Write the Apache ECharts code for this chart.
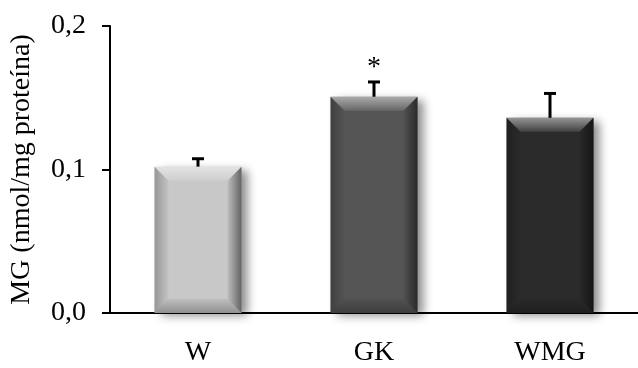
<!DOCTYPE html>
<html>
<head>
<meta charset="utf-8">
<script src="https://cdn.jsdelivr.net/npm/echarts@6/dist/echarts.min.js"></script>
<style>html,body{margin:0;padding:0;background:#fff}#c{width:638px;height:368px}</style>
</head>
<body>
<div id="c"></div>
<script>
const categories = ['W', 'GK', 'WMG'];
const means = [0.102, 0.1507, 0.136];
const errUpper = [0.1075, 0.161, 0.153];
const sigMarks = ['', '*', ''];
const yTicks = [0, 0.1, 0.2];
const barColors = ['#c8c8c8', '#555555', '#2b2b2b'];

const FONT = 'Liberation Serif';
const FS = 28;
const BAR_W = 87;
const BEVEL = 14;
const chart = echarts.init(document.getElementById('c'), null, {renderer: 'canvas'});

function lg(x0, y0, x1, y1, c0, c1) {
  return new echarts.graphic.LinearGradient(x0, y0, x1, y1, [
    {offset: 0, color: c0}, {offset: 1, color: c1}
  ]);
}

chart.setOption({
  animation: false,
  backgroundColor: '#fff',
  grid: {left: 110, right: -9, top: 26, bottom: 55, containLabel: false},
  xAxis: {
    type: 'category',
    data: categories,
    boundaryGap: true,
    axisLine: {lineStyle: {color: '#000', width: 2}},
    axisTick: {show: false},
    axisLabel: {color: '#000', fontFamily: FONT, fontSize: FS, margin: 26}
  },
  yAxis: {
    type: 'value',
    min: yTicks[0], max: yTicks[yTicks.length - 1], interval: 0.1,
    name: 'MG (nmol/mg proteína)',
    nameLocation: 'middle',
    nameGap: 74,
    nameRotate: 90,
    nameTextStyle: {color: '#000', fontFamily: FONT, fontSize: FS},
    axisLine: {show: true, lineStyle: {color: '#000', width: 2}},
    axisTick: {show: true, inside: false, length: 8, lineStyle: {color: '#000', width: 2}},
    axisLabel: {color: '#000', fontFamily: FONT, fontSize: FS, margin: 24,
      formatter: v => v.toFixed(1).replace('.', ',')},
    splitLine: {show: false}
  },
  series: [
    {
      type: 'bar',
      barWidth: BAR_W,
      data: means.map((v, i) => ({
        value: v,
        itemStyle: {
          color: barColors[i],
          shadowColor: 'rgba(0,0,0,0.45)', shadowBlur: 9, shadowOffsetX: 6, shadowOffsetY: 3
        }
      })),
      z: 2
    },
    {
      type: 'custom',
      data: means.map((v, i) => [i, v]),
      renderItem: function (params, api) {
        const i = api.value(0);
        const top = api.coord([i, api.value(1)]);
        const base = api.coord([i, 0]);
        const h = BAR_W / 2;
        const L = top[0] - h, R = top[0] + h, T = top[1], B = base[1];
        const b = BEVEL;
        return {type: 'group', children: [
          {type: 'polygon', shape: {points: [[L, T], [R, T], [R - b, T + b], [L + b, T + b]]},
            style: {fill: lg(0, 0, 0, 1, 'rgba(255,255,255,0.5)', 'rgba(255,255,255,0.1)')}},
          {type: 'polygon', shape: {points: [[L, T], [L + b, T + b], [L + b, B - b], [L, B]]},
            style: {fill: lg(0, 0, 1, 0, 'rgba(0,0,0,0.25)', 'rgba(0,0,0,0.02)')}},
          {type: 'polygon', shape: {points: [[R, T], [R, B], [R - b, B - b], [R - b, T + b]]},
            style: {fill: lg(0, 0, 1, 0, 'rgba(0,0,0,0.05)', 'rgba(0,0,0,0.5)')}},
          {type: 'polygon', shape: {points: [[L, B], [L + b, B - b], [R - b, B - b], [R, B]]},
            style: {fill: lg(0, 0, 0, 1, 'rgba(0,0,0,0.05)', 'rgba(0,0,0,0.28)')}}
        ]};
      },
      z: 3
    },
    {
      type: 'custom',
      data: categories.map((c, i) => [i, means[i], errUpper[i]]),
      renderItem: function (params, api) {
        const i = api.value(0);
        const p0 = api.coord([i, api.value(1)]);
        const p1 = api.coord([i, api.value(2)]);
        const children = [
          {type: 'line', shape: {x1: p0[0], y1: p0[1], x2: p1[0], y2: p1[1]}, style: {stroke: '#000', lineWidth: 3}},
          {type: 'line', shape: {x1: p1[0] - 6, y1: p1[1], x2: p1[0] + 6, y2: p1[1]}, style: {stroke: '#000', lineWidth: 3}}
        ];
        const mark = sigMarks[params.dataIndex];
        if (mark) {
          children.push({type: 'text', x: p1[0], y: p1[1],
            style: {text: mark, fill: '#000', fontFamily: FONT, fontSize: FS, align: 'center', verticalAlign: 'bottom'}});
        }
        return {type: 'group', children: children};
      },
      z: 4
    }
  ]
});
</script>
</body>
</html>
